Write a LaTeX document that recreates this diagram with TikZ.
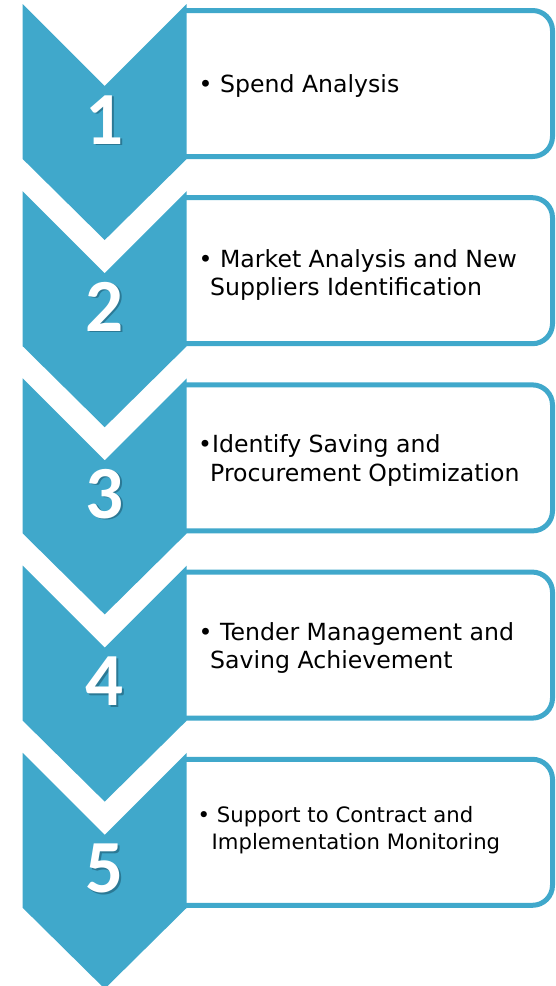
\documentclass[tikz,border=0pt]{standalone}
\usepackage{fontspec}
\setmainfont{DejaVu Sans}
\newfontfamily\numfont{Carlito}
\definecolor{chev}{HTML}{40A8CB}
\definecolor{chevdark}{HTML}{1D5A72}
\begin{document}
\begin{tikzpicture}[x=1pt,y=-1pt,
  stepbox/.style={draw=chev, line width=5pt, rounded corners=20pt},
  txt/.style={anchor=base west, inner sep=0pt, text=black, font=\fontsize{23.6}{28}\selectfont},
  txtsmall/.style={txt, font=\fontsize{21.2}{24}\selectfont},
  num/.style={anchor=base, inner sep=0pt, text=white, font=\numfont\bfseries\fontsize{75}{80}\selectfont},
  numshadow/.style={num, text=chevdark, opacity=0.6}]
\useasboundingbox (0,0) rectangle (556,986);
\fill[white] (0,0) rectangle (556,986);
% boxes
\foreach \i in {0,...,4}{
  \pgfmathsetmacro\T{4+187.2*\i}
  \draw[stepbox] (183,{\T+6.5}) -- (552.5,{\T+6.5}) -- (552.5,{\T+152.5}) -- (183,{\T+152.5});
}
% chevrons
\foreach \i in {0,...,4}{
  \pgfmathsetmacro\T{4+187.2*\i}
  \fill[chev] (22.7,\T) -- (104.7,{\T+82}) -- (186.7,\T) -- (186.7,{\T+155})
     -- (104.7,{\T+236}) -- (22.7,{\T+155}) -- cycle;
}
% numbers
\node[numshadow] (n1s) at (106.2,145.5) {1};
\node[num] (n1) at (104.7,144) {1};
\node[numshadow] (n2s) at (106.2,332.7) {2};
\node[num] (n2) at (104.7,331.2) {2};
\node[numshadow] (n3s) at (106.2,519.9) {3};
\node[num] (n3) at (104.7,518.4) {3};
\node[numshadow] (n4s) at (106.2,707.1) {4};
\node[num] (n4) at (104.7,705.6) {4};
\node[numshadow] (n5s) at (106.2,894.3) {5};
\node[num] (n5) at (104.7,892.8) {5};
% texts
\node[txt] (t1) at (198.5,92.7) {•\ Spend Analysis};
\node[txt] (t2a) at (198.5,267.3) {•\ Market Analysis and New};
\node[txt] (t2b) at (210,295.7) {Suppliers Identification};
\node[txt] (t3a) at (198,452.7) {•Identify Saving and};
\node[txt] (t3b) at (210,481) {Procurement Optimization};
\node[txt] (t4a) at (198.5,640.7) {•\ Tender Management and};
\node[txt] (t4b) at (210,668.3) {Saving Achievement};
\node[txtsmall] (t5a) at (197.5,822.3) {•\ Support to Contract and};
\node[txtsmall] (t5b) at (211.5,849.3) {Implementation Monitoring};
\end{tikzpicture}
\end{document}
